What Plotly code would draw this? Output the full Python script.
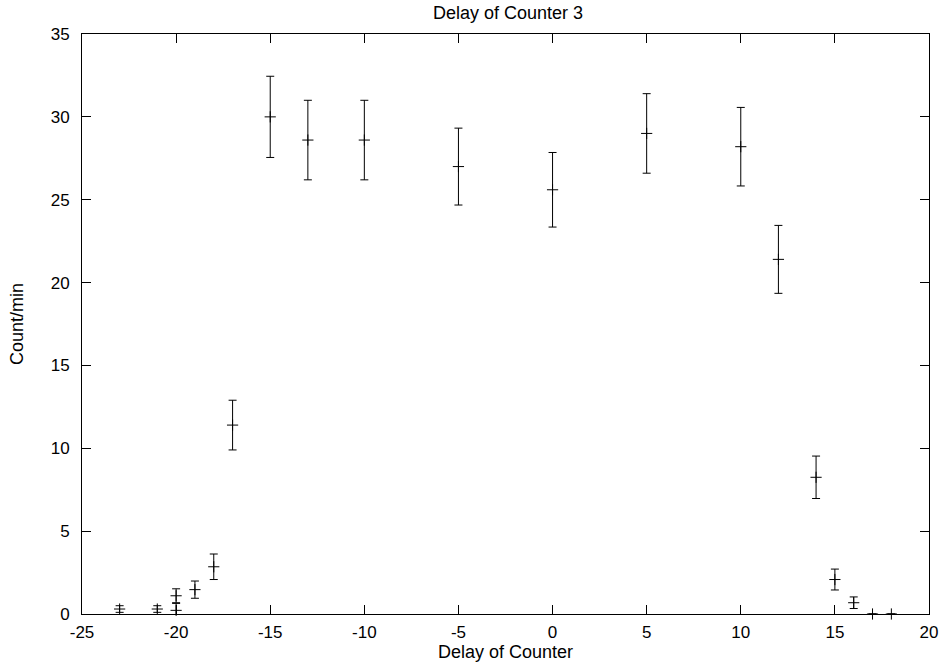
import plotly.graph_objects as go

# Data
delay = [-23, -21, -20, -20, -19, -18, -17, -15, -13, -10, -5, 0, 5, 10, 12, 14, 15, 16, 17, 18]
count = [0.3, 0.3, 1.1, 0.22, 1.47, 2.85, 11.4, 30.0, 28.6, 28.6, 27.0, 25.6, 29.0, 28.2, 21.4, 8.25, 2.08, 0.68, 0.0, 0.0]
err = [0.2, 0.2, 0.42, 0.42, 0.52, 0.77, 1.5, 2.45, 2.4, 2.4, 2.32, 2.25, 2.4, 2.37, 2.05, 1.28, 0.63, 0.35, 0.0, 0.0]

x_ticks = [-25, -20, -15, -10, -5, 0, 5, 10, 15, 20]
y_ticks = [0, 5, 10, 15, 20, 25, 30, 35]

FONT = "Liberation Sans, Arial, sans-serif"

fig = go.Figure()
fig.add_trace(go.Scatter(
    x=delay, y=count, mode="markers",
    marker=dict(symbol="cross-thin", size=8, line=dict(width=1, color="black"), color="black"),
    error_y=dict(type="data", array=err, visible=True, thickness=1, width=4, color="black"),
    showlegend=False,
    cliponaxis=False,
))

axis_common = dict(
    showline=True, linecolor="black", linewidth=1, mirror="ticks",
    ticks="inside", ticklen=9, tickwidth=1, tickcolor="black",
    showgrid=False, zeroline=False, automargin=False,
    tickfont=dict(family=FONT, size=17, color="black"),
)

fig.update_xaxes(
    range=[-25, 20], tickvals=x_ticks, ticktext=[str(v) for v in x_ticks],
    ticklabelstandoff=3,
    title=dict(text="Delay of Counter", font=dict(family=FONT, size=18, color="black"), standoff=0),
    **axis_common,
)
fig.update_yaxes(
    range=[0, 35], tickvals=y_ticks, ticktext=[str(v) for v in y_ticks],
    ticklabelstandoff=8,
    title=dict(text="Count/min", font=dict(family=FONT, size=18, color="black"), standoff=22),
    **axis_common,
)

fig.update_layout(
    width=946, height=666,
    margin=dict(l=82, r=17, t=34, b=52, autoexpand=False),
    paper_bgcolor="white", plot_bgcolor="white",
    title=dict(text="Delay of Counter 3", x=508 / 946, xanchor="center", xref="container",
               y=1 - 13 / 666, yanchor="middle", yref="container",
               font=dict(family=FONT, size=18, color="black")),
)

fig.write_html("out.html", config={"displayModeBar": False},
               post_script="document.body.style.margin='0';")
